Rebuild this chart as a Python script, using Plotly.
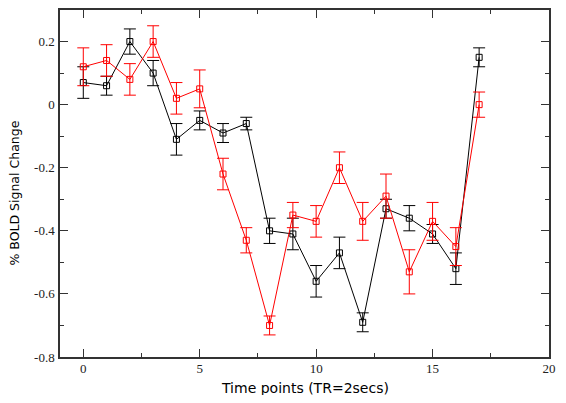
import plotly.graph_objects as go

# time points (TR = 2 s)
time_points = list(range(18))

# black series: mean % signal change and error
black_mean = [0.07, 0.06, 0.20, 0.10, -0.11, -0.05, -0.09, -0.06, -0.40, -0.41,
              -0.56, -0.47, -0.69, -0.33, -0.36, -0.41, -0.52, 0.15]
black_err = [0.05, 0.03, 0.04, 0.04, 0.05, 0.03, 0.03, 0.02, 0.04, 0.05,
             0.05, 0.05, 0.03, 0.03, 0.04, 0.03, 0.05, 0.03]

# red series
red_mean = [0.12, 0.14, 0.08, 0.20, 0.02, 0.05, -0.22, -0.43, -0.70, -0.35,
            -0.37, -0.20, -0.37, -0.29, -0.53, -0.37, -0.45, 0.00]
red_err = [0.06, 0.05, 0.05, 0.05, 0.05, 0.06, 0.05, 0.04, 0.03, 0.04,
           0.05, 0.05, 0.06, 0.07, 0.07, 0.06, 0.06, 0.04]

x_ticks = [0, 5, 10, 15, 20]
y_ticks = [-0.8, -0.6, -0.4, -0.2, 0, 0.2]
y_labels = ["-0.8", "-0.6", "-0.4", "-0.2", "0", "0.2"]

fig = go.Figure()

for mean, err, col in [(black_mean, black_err, "black"), (red_mean, red_err, "#ff0000")]:
    fig.add_trace(go.Scatter(
        x=time_points, y=mean,
        mode="lines+markers",
        line=dict(color=col, width=1),
        marker=dict(symbol="square-open", size=6, color=col, line=dict(width=1)),
        error_y=dict(type="data", array=err, visible=True, color=col, thickness=1, width=6),
        showlegend=False,
    ))

serif = "Liberation Serif, Times New Roman, serif"
axis_common = dict(
    showline=True, linecolor="#333", linewidth=1.5, mirror="ticks",
    ticks="inside", ticklen=8, tickcolor="#333", tickwidth=1,
    showgrid=False, zeroline=False, automargin=False, ticklabeloverflow="allow",
    tickfont=dict(family=serif, size=13, color="#222"),
)

fig.update_xaxes(
    range=[-1, 20], tickvals=x_ticks, ticklabelstandoff=-1,
    minor=dict(ticks="inside", dtick=2.5, tick0=0, ticklen=4, tickcolor="#333", showgrid=False),
    **axis_common,
)
fig.update_yaxes(
    range=[-0.8, 0.3], tickvals=y_ticks, ticktext=y_labels, ticklabelstandoff=1,
    minor=dict(ticks="inside", dtick=0.1, tick0=0, ticklen=4, tickcolor="#333", showgrid=False),
    **axis_common,
)

fig.add_annotation(text="Time points (TR=2secs)", xref="paper", yref="paper",
                   x=0.5, y=0, yshift=-31, yanchor="middle", showarrow=False,
                   font=dict(family="DejaVu Sans", size=14, color="black"))
fig.add_annotation(text="% BOLD Signal Change", xref="paper", yref="paper",
                   x=0, y=0.5, xshift=-46, yshift=-10, xanchor="center", yanchor="middle",
                   textangle=-90, showarrow=False,
                   font=dict(family="DejaVu Sans", size=12.5, color="black"))

# the page body adds an 8 px margin, so the figure is sized to fit inside it
fig.update_layout(
    width=550, height=387,
    margin=dict(l=52, r=9, t=2, b=38),
    plot_bgcolor="white", paper_bgcolor="white",
)

fig.write_html("out.html")
